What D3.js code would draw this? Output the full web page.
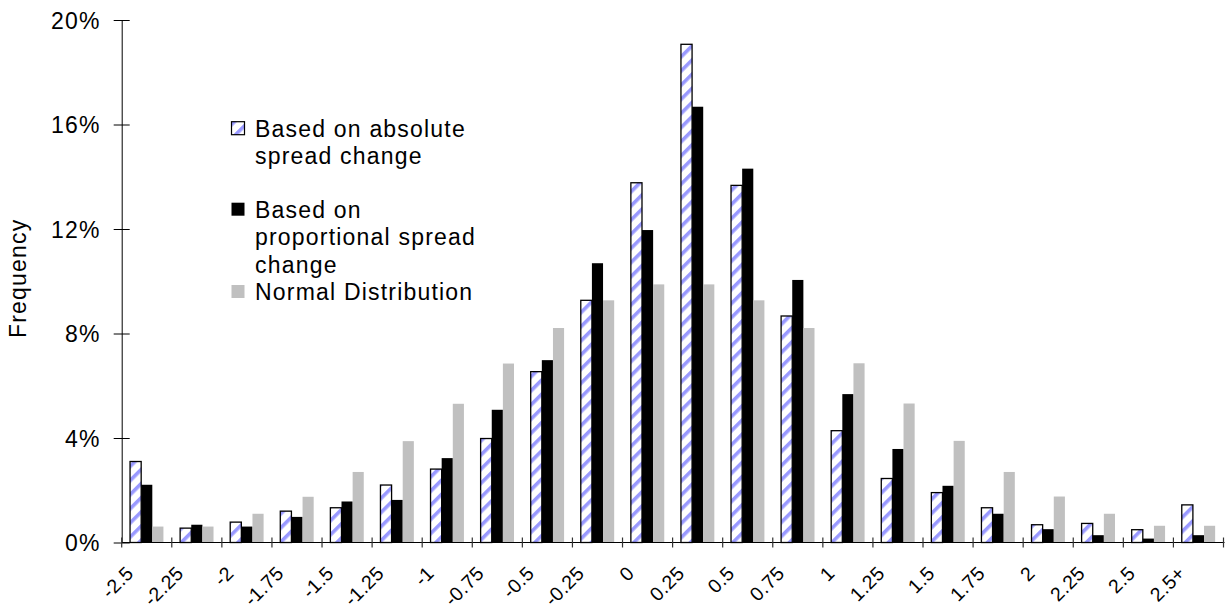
<!DOCTYPE html>
<html>
<head>
<meta charset="utf-8">
<script src="https://cdn.jsdelivr.net/npm/d3@7/dist/d3.min.js"></script>
<style>
  html, body { margin: 0; padding: 0; background: #fff; }
  svg { display: block; }
  text { font-family: "Liberation Sans", Arial, sans-serif; fill: #000; }
</style>
</head>
<body>
<svg id="chart" width="1225" height="612"></svg>
<script>
// ---- data ----
const categories = ["-2.5","-2.25","-2","-1.75","-1.5","-1.25","-1","-0.75","-0.5","-0.25",
  "0","0.25","0.5","0.75","1","1.25","1.5","1.75","2","2.25","2.5","2.5+"];
const absoluteSpread = [3.10,0.55,0.78,1.20,1.33,2.20,2.81,3.98,6.54,9.27,
  13.77,19.07,13.67,8.67,4.28,2.45,1.91,1.33,0.68,0.73,0.49,1.44];
const proportionalSpread = [2.21,0.68,0.61,0.98,1.57,1.63,3.23,5.08,6.98,10.69,
  11.96,16.68,14.31,10.05,5.68,3.58,2.17,1.10,0.51,0.28,0.15,0.28];
const normalDist = [0.61,0.61,1.10,1.75,2.70,3.88,5.31,6.85,8.21,9.27,
  9.88,9.88,9.27,8.21,6.86,5.32,3.89,2.70,1.76,1.10,0.64,0.64];
const seriesNames = ["Based on absolute spread change", "Based on proportional spread change", "Normal Distribution"];
const legendLines = [["Based on absolute", "spread change"], ["Based on", "proportional spread", "change"], ["Normal Distribution"]];
const yTicks = [0, 4, 8, 12, 16, 20];
const yLabel = "Frequency";

// ---- layout ----
const svg = d3.select("#chart");
const pLeft = 121.7, pRight = 1223.5, pTop = 20, pBottom = 542.5;
const FONT = 23, LS = 1.2;
const XFONT = 19.5, XLS = 0.4;

const defs = svg.append("defs");
const pat = defs.append("pattern")
  .attr("id", "stripes")
  .attr("patternUnits", "userSpaceOnUse")
  .attr("width", 10).attr("height", 10)
  .attr("patternTransform", "rotate(45)");
pat.append("rect").attr("width", 10).attr("height", 10).attr("fill", "#ffffff");
pat.append("rect").attr("x", 0).attr("width", 3.6).attr("height", 10).attr("fill", "#9999ff");

const x0 = d3.scaleBand().domain(categories).range([pLeft, pRight]).padding(0);
const step = x0.bandwidth();
const barW = step / 4.5;
const x1 = d3.scaleBand().domain(seriesNames).range([barW * 0.75, step - barW * 0.75]).padding(0);
const y = d3.scaleLinear().domain([0, 20]).range([pBottom, pTop]);

const series = [
  { name: seriesNames[0], values: absoluteSpread, fill: "url(#stripes)", stroke: "#000", sw: 1.3 },
  { name: seriesNames[1], values: proportionalSpread, fill: "#000000", stroke: "none", sw: 0 },
  { name: seriesNames[2], values: normalDist, fill: "#c0c0c0", stroke: "none", sw: 0 }
];

// bars
const gBars = svg.append("g");
series.forEach(s => {
  gBars.append("g").selectAll("rect")
    .data(categories.map((c, i) => ({ c, v: s.values[i] })))
    .join("rect")
    .attr("x", d => x0(d.c) + x1(s.name))
    .attr("y", d => y(d.v))
    .attr("width", x1.bandwidth())
    .attr("height", d => y(0) - y(d.v))
    .attr("fill", s.fill)
    .attr("stroke", s.stroke)
    .attr("stroke-width", s.sw);
});

// y axis
const yAxis = d3.axisLeft(y).tickValues(yTicks).tickFormat(d => d + "%").tickSize(8).tickPadding(14);
const gy = svg.append("g").attr("transform", `translate(${pLeft},0)`).call(yAxis);
gy.select(".domain").attr("stroke", "#000").attr("d", `M0.5,${pTop}V${pBottom}`);
gy.selectAll(".tick line").attr("x1", -8).attr("x2", 8).attr("stroke", "#000");
gy.selectAll(".tick text")
  .attr("font-size", FONT).attr("letter-spacing", LS)
  .attr("font-family", "Liberation Sans, Arial, sans-serif")
  .attr("x", -21).attr("dy", "0.36em");

// x axis
const gx = svg.append("g");
gx.append("line").attr("x1", pLeft).attr("x2", pRight + 1).attr("y1", pBottom).attr("y2", pBottom)
  .attr("stroke", "#000").attr("stroke-width", 1.2);
const boundaries = categories.map(c => x0(c)).concat([x0(categories[categories.length - 1]) + step]);
gx.selectAll("line.tk").data(boundaries).join("line").attr("class", "tk")
  .attr("x1", d => d).attr("x2", d => d).attr("y1", pBottom - 5).attr("y2", pBottom + 5)
  .attr("stroke", "#333").attr("stroke-width", 1.2);
gx.selectAll("text").data(categories).join("text")
  .attr("transform", c => `translate(${x0(c) + step / 2 - 12},${pBottom + 32}) rotate(-45)`)
  .attr("text-anchor", "end")
  .attr("font-size", XFONT).attr("letter-spacing", XLS)
  .text(c => c);

// y label
svg.append("text")
  .attr("transform", `translate(26,${(pTop + pBottom) / 2 - 3}) rotate(-90)`)
  .attr("text-anchor", "middle")
  .attr("font-size", FONT).attr("letter-spacing", LS)
  .text(yLabel);

// legend
const legendBaselines = [136.7, 217.7, 300];
const lineH = 27.5;
const gl = svg.append("g");
series.forEach((s, i) => {
  const b = legendBaselines[i];
  gl.append("rect").attr("x", 231.5).attr("y", b - 15).attr("width", 13).attr("height", 13)
    .attr("fill", s.fill).attr("stroke", i === 0 ? "#000" : "none").attr("stroke-width", 1.2);
  legendLines[i].forEach((ln, j) => {
    gl.append("text").attr("x", 255).attr("y", b + j * lineH)
      .attr("font-size", FONT).attr("letter-spacing", LS).text(ln);
  });
});
</script>
</body>
</html>
